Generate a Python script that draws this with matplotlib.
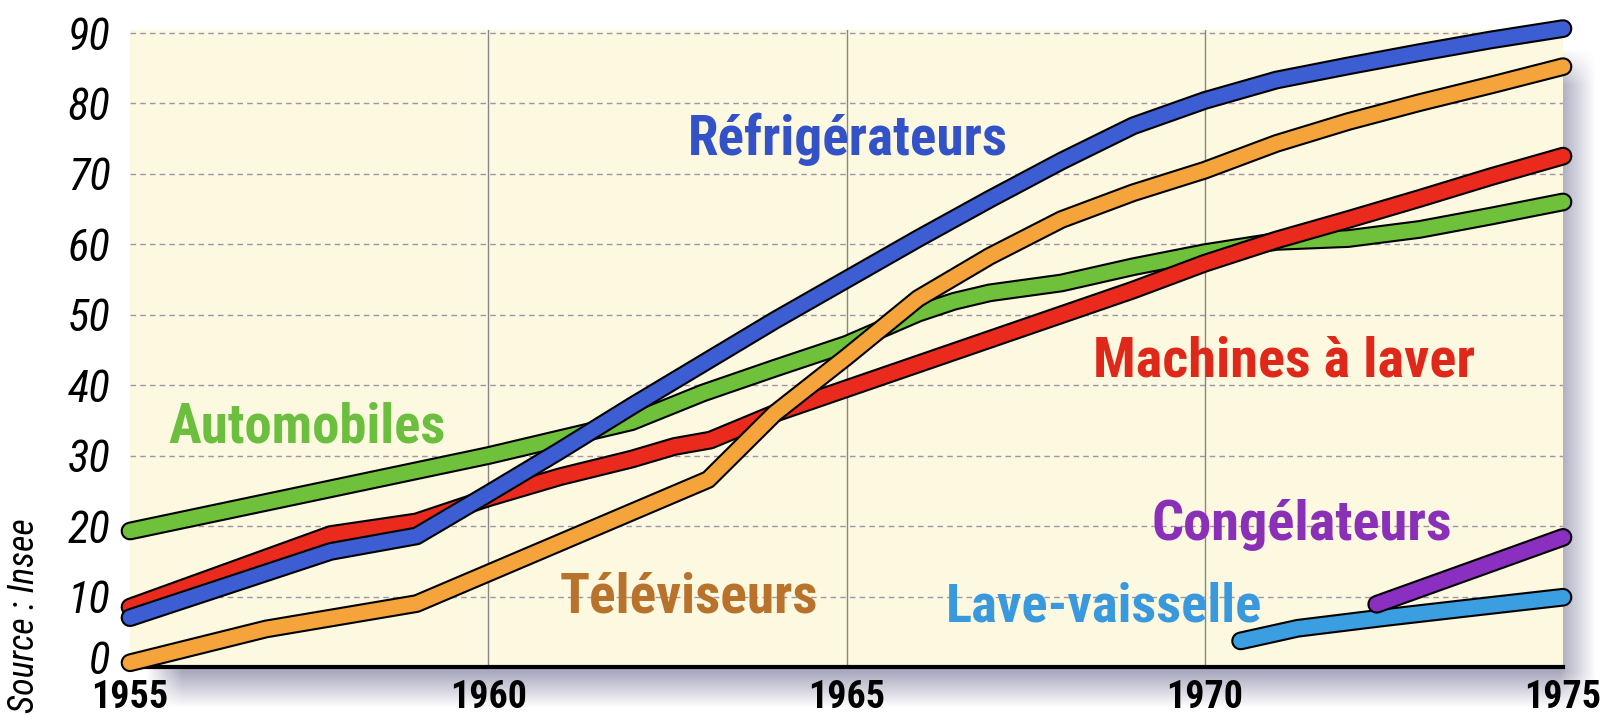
import numpy as np
import matplotlib
matplotlib.use("Agg")
import matplotlib.pyplot as plt
import matplotlib.patheffects as pe
import matplotlib.transforms as mtrans
import logging

logging.getLogger("matplotlib.font_manager").setLevel(logging.ERROR)

# ================================
# Data (taux d'équipement des ménages, %)
# ================================
refrig_years = [1955, 1957.8, 1959, 1960, 1961, 1962, 1963, 1964, 1965, 1966,
                1967, 1968, 1969, 1970, 1971, 1972, 1973, 1974, 1975]
refrig_vals = [7, 16.4, 18.6, 24.6, 30.7, 37, 43.1, 49.2, 55, 60.8,
               66.4, 71.8, 76.8, 80.4, 83.3, 85.3, 87.2, 89, 90.6]

machines_years = [1955, 1957.8, 1959, 1960, 1961, 1962, 1962.6, 1963.1, 1964, 1965,
                  1966, 1967, 1968, 1969, 1970, 1971, 1972, 1973, 1974, 1975]
machines_vals = [8.5, 18.8, 20.6, 24, 27, 29.5, 31.3, 32.2, 36, 39.5,
                 43, 46.5, 50, 53.5, 57.3, 60.6, 63.5, 66.5, 69.6, 72.5]

auto_years = [1955, 1960, 1961, 1962, 1963, 1964, 1965, 1966, 1966.5, 1967,
              1968, 1969, 1970, 1971, 1972, 1973, 1974, 1975]
auto_vals = [19.3, 30, 32.4, 34.8, 38.9, 42.4, 45.8, 50.2, 51.9, 53.1,
             54.5, 56.8, 58.8, 60.4, 60.8, 62.1, 64, 66]

tele_years = [1955, 1956.9, 1959, 1963.07, 1964, 1965, 1966, 1967, 1968, 1969,
              1970, 1971, 1972, 1973, 1974, 1975]
tele_vals = [0.6, 5.4, 9, 26.6, 36, 44, 52.3, 58.3, 63.5, 67.3,
             70.5, 74.3, 77.4, 80.1, 82.6, 85.2]

lave_years = [1970.5, 1971.3, 1972.5, 1973.7, 1975]
lave_vals = [3.7, 5.5, 7.0, 8.4, 9.9]

congel_years = [1972.4, 1975]
congel_vals = [8.9, 18.4]

x_ticks = [1955, 1960, 1965, 1970, 1975]
y_ticks = [0, 10, 20, 30, 40, 50, 60, 70, 80, 90]
v_grid = [1960, 1965, 1970]

narrow = ["Roboto Condensed", "Archivo Narrow", "Fira Sans Condensed", "Liberation Sans"]

# ================================
# Figure & shadow
# ================================
W, H = 1604, 724
fig = plt.figure(figsize=(W / 100, H / 100), dpi=100)
fig.patch.set_facecolor("white")

# blurred drop shadow behind the plot area
mask = np.zeros((H, W))
mask[68:690, 165:1578] = 1.0
k = 18
for axis in (0, 1):
    c = np.cumsum(np.pad(mask, [(k, k) if a == axis else (0, 0) for a in (0, 1)]), axis=axis)
    if axis == 0:
        mask = (c[2 * k:, :] - c[:-2 * k, :]) / (2 * k)
    else:
        mask = (c[:, 2 * k:] - c[:, :-2 * k]) / (2 * k)
mask = mask[:H, :W]
shadow = np.zeros((H, W, 4))
shadow[..., 0] = 0.62
shadow[..., 1] = 0.62
shadow[..., 2] = 0.72
shadow[..., 3] = np.clip(mask, 0, 1) * 0.9
fig.figimage(shadow, 0, 0, origin="upper", zorder=-1)

ax = fig.add_axes([130 / W, 57 / H, 1433 / W, 637 / H])
ax.set_facecolor("#fcf9e0")
ax.set_xlim(1955, 1975)
ax.set_ylim(0, 90.4)

for s in ["left", "right", "top"]:
    ax.spines[s].set_visible(False)
ax.spines["bottom"].set_linewidth(3)
ax.spines["bottom"].set_color("black")

# grid
for yv in y_ticks[1:]:
    ax.axhline(yv, color="#a095a8", lw=1, dashes=(4, 3), zorder=1)
for xv in v_grid:
    ax.axvline(xv, color="#8a8488", lw=1, zorder=1)

# ================================
# Lines
# ================================
def draw(xs, ys, color, z):
    ax.plot(xs, ys, color=color, lw=10.5, solid_capstyle="round",
            solid_joinstyle="round", zorder=z, clip_on=False,
            path_effects=[pe.Stroke(linewidth=13.5, foreground="black"), pe.Normal()])

draw(auto_years, auto_vals, "#6fc13c", 3)
draw(machines_years, machines_vals, "#ea2a1c", 4)
draw(refrig_years, refrig_vals, "#3d5dd2", 5)
draw(tele_years, tele_vals, "#f4a43a", 6)
draw(lave_years, lave_vals, "#3a9ee0", 7)
draw(congel_years, congel_vals, "#8a2fbf", 8)

# ================================
# Labels (size fitted to the reference width in pixels)
# ================================
lab = dict(fontfamily=narrow, fontweight="bold", fontsize=40,
           ha="center", va="baseline", zorder=9)
labels = [
    (ax.text(1965.02, 72.7, "Réfrigérateurs", color="#3352c8", **lab), 320),
    (ax.text(1957.47, 31.9, "Automobiles", color="#6cbf3e", **lab), 277),
    (ax.text(1971.1, 41.2, "Machines à laver", color="#e0281a", **lab), 382),
    (ax.text(1962.8, 7.8, "Téléviseurs", color="#b8722c", **lab), 258),
    (ax.text(1971.36, 18.0, "Congélateurs", color="#8a30b8", **lab), 300),
    (ax.text(1968.6, 6.4, "Lave-vaisselle", color="#3a98dc", **lab), 315),
]

# ticks
ax.set_xticks(x_ticks)
ax.set_xticklabels([str(t) for t in x_ticks], fontfamily=narrow, fontweight="bold")
ax.set_yticks(y_ticks)
ax.set_yticklabels([str(t) for t in y_ticks], fontfamily=narrow, fontstyle="italic")
ax.tick_params(axis="both", length=0)
ax.tick_params(axis="x", labelsize=28, pad=8.5)
ax.tick_params(axis="y", labelsize=32, pad=14)

src = fig.text(24 / W, 1 - 616 / H, "Source : Insee", rotation=90, fontfamily=narrow,
               fontstyle="italic", fontsize=20, ha="center", va="center")

fig.canvas.draw()
r = fig.canvas.get_renderer()
for t, target in labels:
    w = t.get_window_extent(r).width
    t.set_fontsize(t.get_fontsize() * target / w)

xl = ax.get_xticklabels()[1]
ax.tick_params(axis="x", labelsize=28 * 77 / xl.get_window_extent(r).width)
yl = ax.get_yticklabels()[-1]
ax.tick_params(axis="y", labelsize=32 * 43 / yl.get_window_extent(r).width)
h = src.get_window_extent(r).height
src.set_fontsize(20 * 195 / h)

# the "0" label sits a little above the axis line, clear of "1955"
lbl0 = ax.get_yticklabels()[0]
lbl0.set_transform(lbl0.get_transform()
                   + mtrans.ScaledTranslation(0, 7 / 72, fig.dpi_scale_trans))

fig.savefig("out.png", dpi=100)
print("done")
